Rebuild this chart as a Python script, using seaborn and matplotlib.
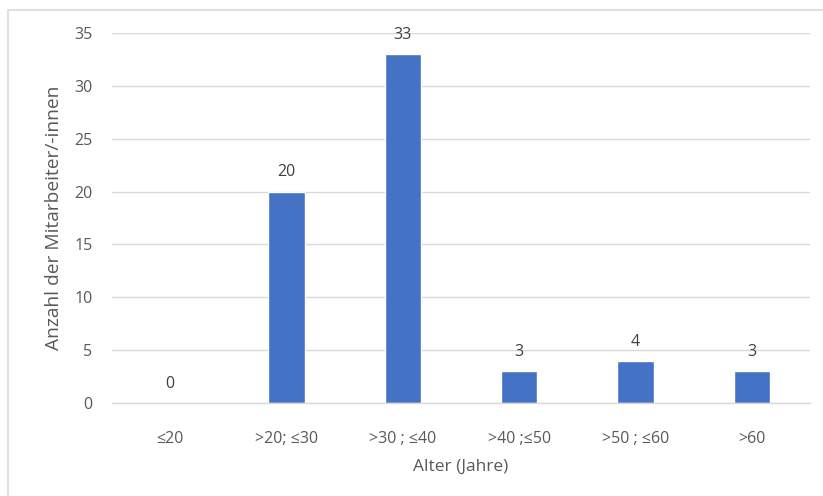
import matplotlib
matplotlib.use("Agg")
import matplotlib.pyplot as plt
import seaborn as sns
import pandas as pd
from matplotlib.patches import Rectangle

# Data
categories = ["≤20", ">20; ≤30", ">30 ; ≤40", ">40 ;≤50", ">50 ; ≤60", ">60"]
counts = [0, 20, 33, 3, 4, 3]

df = pd.DataFrame({"Alter": categories, "Anzahl": counts})

sns.set_theme(style="white")
plt.rcParams["font.family"] = ["Open Sans", "DejaVu Sans"]

text_color = "#595959"
grid_color = "#D9D9D9"
bar_color = "#4472C4"

fig = plt.figure(figsize=(8.23, 4.96), dpi=100)
ax = fig.add_axes([112 / 823, 1 - 403 / 496, (810 - 112) / 823, (403 - 33) / 496])

sns.barplot(data=df, x="Alter", y="Anzahl", color=bar_color, width=0.313,
            saturation=1, ax=ax)

ax.set_ylim(0, 35)
ax.set_yticks(range(0, 36, 5))
ax.set_xlim(-0.5, len(categories) - 0.5)
ax.yaxis.grid(True, color=grid_color, linewidth=1)
ax.set_axisbelow(True)
for side in ["top", "right", "left"]:
    ax.spines[side].set_visible(False)
ax.spines["bottom"].set_color(grid_color)
ax.spines["bottom"].set_linewidth(1)
ax.tick_params(axis="both", length=0, labelsize=11.5, colors=text_color)
ax.tick_params(axis="x", pad=20)
ax.tick_params(axis="y", pad=14)

ax.set_xlabel("Alter (Jahre)", fontsize=12.5, color=text_color, labelpad=9)
ax.set_ylabel("Anzahl der Mitarbeiter/-innen", fontsize=13.8, color=text_color, labelpad=8)

for i, v in enumerate(counts):
    ax.annotate(str(v), (i, v), xytext=(0, 8), textcoords="offset points",
                ha="center", va="bottom", fontsize=11.5, color="#404040")

# chart area border
fig.patches.append(Rectangle((8 / 823, -0.01), 1.0, 1 - 10 / 496 + 0.01,
                             transform=fig.transFigure, fill=False,
                             edgecolor=grid_color, linewidth=1.2))

fig.savefig("out.png", dpi=100)
